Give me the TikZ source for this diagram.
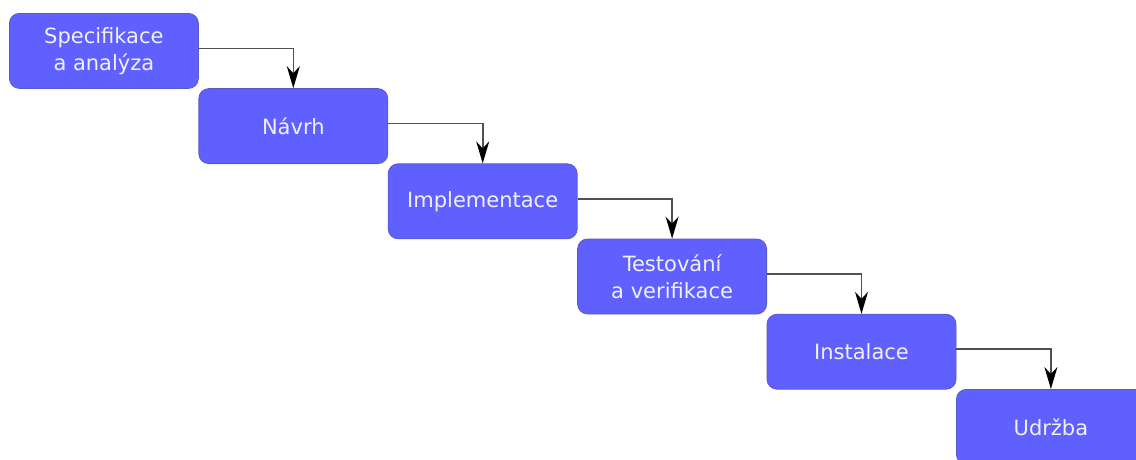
\documentclass[tikz,border=0pt]{standalone}
\usepackage{fontspec}
\setmainfont{DejaVu Sans}
\usetikzlibrary{arrows.meta}
\definecolor{boxfill}{RGB}{96,96,255}
\definecolor{boxline}{RGB}{88,88,200}
\definecolor{boxtext}{RGB}{240,240,255}
\definecolor{linkline}{RGB}{80,80,80}
\tikzset{
  phase/.style={draw=boxline, line width=0.8pt, fill=boxfill, rounded corners=10pt,
    minimum width=189pt, minimum height=75pt, inner sep=0pt, anchor=north west,
    text=boxtext, align=center, font=\fontsize{21}{27}\selectfont},
  link/.style={draw=linkline, line width=1.6pt,
    -{Stealth[length=22pt,width=13pt,inset=7pt,fill=black,color=black]}}
}
\begin{document}
\begin{tikzpicture}[x=1pt,y=-1pt]
\useasboundingbox (0,0) rectangle (1136,459);
\clip (0,0) rectangle (1136,459);
\fill[white] (0,0) rectangle (1136,459);
\node[phase] (p1) at (9,13) {Specifikace\\a analýza};
\node[phase] (p2) at (198.4,88.2) {Návrh};
\node[phase] (p3) at (387.8,163.4) {Implementace};
\node[phase] (p4) at (577.2,238.6) {Testování\\a verifikace};
\node[phase] (p5) at (766.6,313.8) {Instalace};
\node[phase] (p6) at (956,389) {Udržba};
\foreach \a/\b in {p1/p2,p2/p3,p3/p4,p4/p5,p5/p6}
  \draw[link] ([yshift=2.5pt]\a.east) -| (\b.north);
\end{tikzpicture}
\end{document}
